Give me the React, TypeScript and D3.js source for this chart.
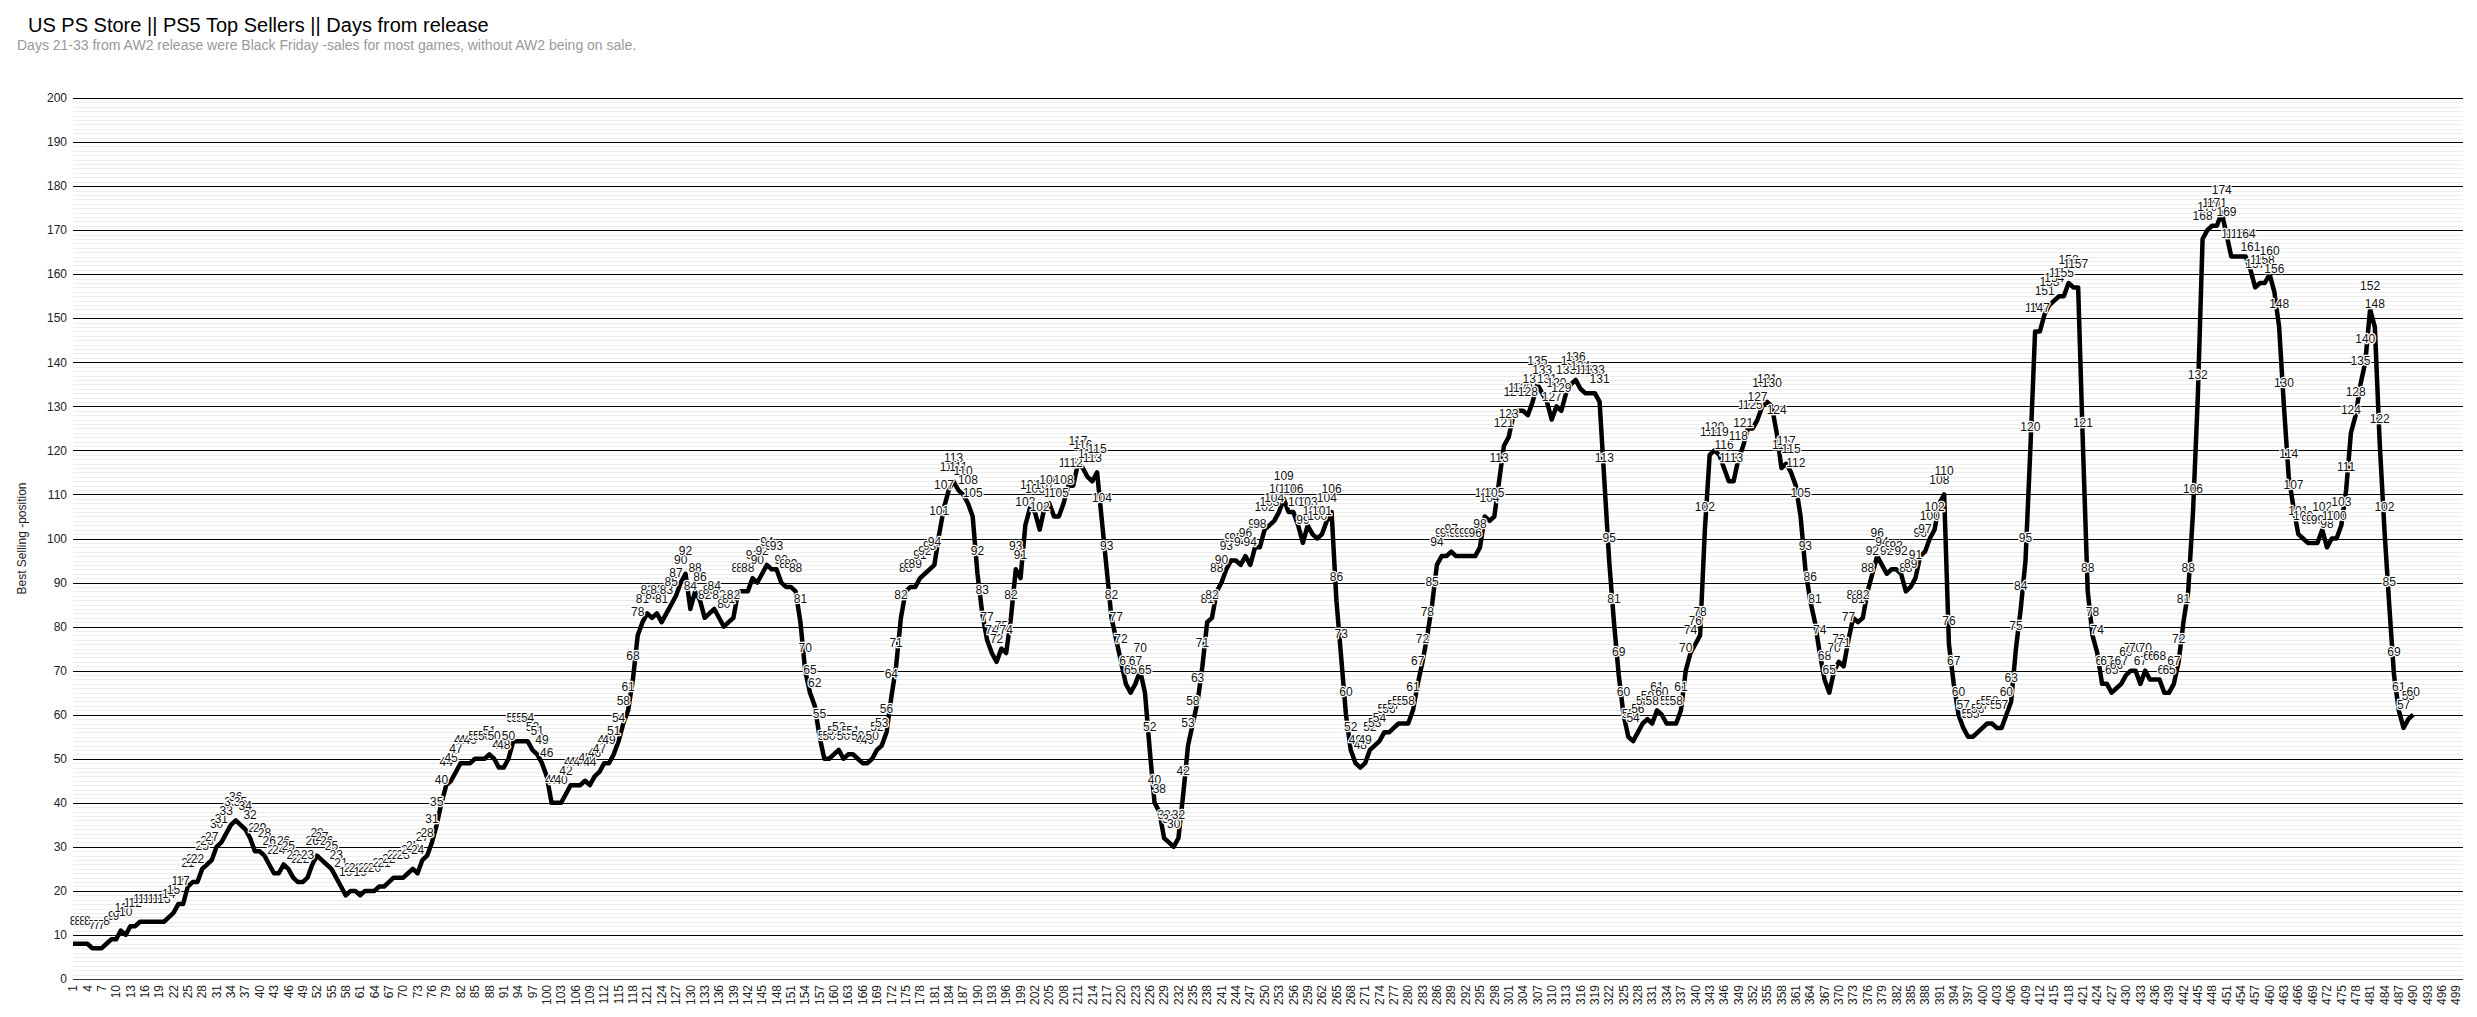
import { useEffect, useRef } from "react";
import * as d3 from "d3";

const TITLE = "US PS Store || PS5 Top Sellers || Days from release";
const SUBTITLE =
  "Days 21-33 from AW2 release were Black Friday -sales for most games, without AW2 being on sale.";
const Y_TITLE = "Best Selling -position";

// category axis: days from release
const days: number[] = Array.from({ length: 500 }, (_, i) => i + 1);
const yTicks = [0, 10, 20, 30, 40, 50, 60, 70, 80, 90, 100, 110, 120, 130, 140, 150, 160, 170, 180, 190, 200];

// best selling position
const positionDays1to100 = [
  8, 8, 8, 8, 7, 7, 7, 8, 9, 9,
  11, 10, 12, 12, 13, 13, 13, 13, 13, 13,
  14, 15, 17, 17, 21, 22, 22, 25, 26, 27,
  30, 31, 33, 35, 36, 35, 34, 32, 29, 29,
  28, 26, 24, 24, 26, 25, 23, 22, 22, 23,
  26, 28, 27, 26, 25, 23, 21, 19, 20, 20,
  19, 20, 20, 20, 21, 21, 22, 23, 23, 23,
  24, 25, 24, 27, 28, 31, 35, 40, 44, 45,
  47, 49, 49, 49, 50, 50, 50, 51, 50, 48,
  48, 50, 54, 54, 54, 54, 52, 51, 49, 46,
];
const positionDays101to200 = [
  40, 40, 40, 42, 44, 44, 44, 45, 44, 46,
  47, 49, 49, 51, 54, 58, 61, 68, 78, 81,
  83, 82, 83, 81, 83, 85, 87, 90, 92, 84,
  88, 86, 82, 83, 84, 82, 80, 81, 82, 88,
  88, 88, 91, 90, 92, 94, 93, 93, 90, 89,
  89, 88, 81, 70, 65, 62, 55, 50, 50, 51,
  52, 50, 51, 51, 50, 49, 49, 50, 52, 53,
  56, 64, 71, 82, 88, 89, 89, 91, 92, 93,
  94, 101, 107, 111, 113, 111, 110, 108, 105, 92,
  83, 77, 74, 72, 75, 74, 82, 93, 91, 103,
];
const positionDays201to300 = [
  107, 106, 102, 107, 108, 105, 105, 108, 112, 112,
  117, 116, 114, 113, 115, 104, 93, 82, 77, 72,
  67, 65, 67, 70, 65, 52, 40, 38, 32, 31,
  30, 32, 42, 53, 58, 63, 71, 81, 82, 88,
  90, 93, 95, 95, 94, 96, 94, 98, 98, 102,
  103, 104, 106, 109, 106, 106, 103, 99, 103, 101,
  100, 101, 104, 106, 86, 73, 60, 52, 49, 48,
  49, 52, 53, 54, 56, 56, 57, 58, 58, 58,
  61, 67, 72, 78, 85, 94, 96, 96, 97, 96,
  96, 96, 96, 96, 98, 105, 104, 105, 113, 121,
];
const positionDays301to400 = [
  123, 128, 129, 129, 128, 131, 135, 133, 131, 127,
  130, 129, 133, 135, 136, 134, 133, 133, 133, 131,
  113, 95, 81, 69, 60, 55, 54, 56, 58, 59,
  58, 61, 60, 58, 58, 58, 61, 70, 74, 76,
  78, 102, 119, 120, 119, 116, 113, 113, 118, 121,
  125, 125, 127, 130, 131, 130, 124, 116, 117, 115,
  112, 105, 93, 86, 81, 74, 68, 65, 70, 72,
  71, 77, 82, 81, 82, 88, 92, 96, 94, 92,
  93, 93, 92, 88, 89, 91, 96, 97, 100, 102,
  108, 110, 76, 67, 60, 57, 55, 55, 56, 57,
];
const positionDays401to490 = [
  58, 58, 57, 57, 60, 63, 75, 84, 95, 120,
  147, 147, 151, 153, 154, 155, 155, 158, 157, 157,
  121, 88, 78, 74, 67, 67, 65, 66, 67, 69,
  70, 70, 67, 70, 68, 68, 68, 65, 65, 67,
  72, 81, 88, 106, 132, 168, 170, 171, 171, 174,
  169, 164, 164, 164, 164, 161, 157, 158, 158, 160,
  156, 148, 130, 114, 107, 101, 100, 99, 99, 99,
  102, 98, 100, 100, 103, 111, 124, 128, 135, 140,
  152, 148, 122, 102, 85, 69, 61, 57, 59, 60,
];

const bestPosition = [
  ...positionDays1to100,
  ...positionDays101to200,
  ...positionDays201to300,
  ...positionDays301to400,
  ...positionDays401to490,
];

const FONT = "'Liberation Sans', Arial, sans-serif";

export default function App() {
  const ref = useRef<SVGSVGElement>(null);

  useEffect(() => {
    const width = 2477;
    const height = 1017;
    const left = 73;
    const right = 2463;
    const top = 98;
    const bottom = 979;

    const svg = d3.select(ref.current);
    svg.selectAll("*").remove();
    svg.attr("width", width).attr("height", height);

    svg.append("rect").attr("width", width).attr("height", height).attr("fill", "#fff");

    const xScale = d3.scalePoint<number>().domain(days).range([left, 2461]);
    const yScale = d3.scaleLinear().domain([0, 200]).range([bottom, top]);

    // title + subtitle
    svg
      .append("text")
      .attr("x", 28)
      .attr("y", 32)
      .attr("font-family", FONT)
      .attr("font-size", "20px")
      .attr("fill", "#000")
      .text(TITLE);
    svg
      .append("text")
      .attr("x", 17)
      .attr("y", 50)
      .attr("font-family", FONT)
      .attr("font-size", "14px")
      .attr("fill", "#999")
      .text(SUBTITLE);

    // minor gridlines, every position
    const minor = d3.range(1, 200).filter((v) => v % 10 !== 0);
    svg
      .append("g")
      .selectAll("line")
      .data(minor)
      .enter()
      .append("line")
      .attr("x1", left)
      .attr("x2", right)
      .attr("y1", (d) => Math.round(yScale(d)) + 0.5)
      .attr("y2", (d) => Math.round(yScale(d)) + 0.5)
      .attr("stroke", "#ececec")
      .attr("stroke-width", 1);

    // major gridlines
    svg
      .append("g")
      .selectAll("line")
      .data(yTicks)
      .enter()
      .append("line")
      .attr("x1", left)
      .attr("x2", right)
      .attr("y1", (d) => Math.round(yScale(d)) + 0.5)
      .attr("y2", (d) => Math.round(yScale(d)) + 0.5)
      .attr("stroke", (d) => (d === 0 ? "#333" : "#000"))
      .attr("stroke-width", 1);

    // y axis labels
    svg
      .append("g")
      .selectAll("text")
      .data(yTicks)
      .enter()
      .append("text")
      .attr("x", 67)
      .attr("y", (d) => yScale(d))
      .attr("dy", "0.35em")
      .attr("text-anchor", "end")
      .attr("font-family", FONT)
      .attr("font-size", "12px")
      .attr("fill", "#222")
      .text((d) => d);

    // y axis title
    svg
      .append("text")
      .attr("transform", `translate(26,${(top + bottom) / 2}) rotate(-90)`)
      .attr("text-anchor", "middle")
      .attr("font-family", FONT)
      .attr("font-size", "12px")
      .attr("fill", "#222")
      .text(Y_TITLE);

    // x axis labels, every third day, rotated
    const tickDays = days.filter((d) => (d - 1) % 3 === 0);
    svg
      .append("g")
      .selectAll("text")
      .data(tickDays)
      .enter()
      .append("text")
      .attr("transform", (d) => `translate(${xScale(d)},985) rotate(-90)`)
      .attr("dy", "0.35em")
      .attr("text-anchor", "end")
      .attr("font-family", FONT)
      .attr("font-size", "12px")
      .attr("fill", "#222")
      .text((d) => d);

    const points = bestPosition.map((v, i) => ({ day: days[i], v }));

    const line = d3
      .line<{ day: number; v: number }>()
      .x((d) => xScale(d.day) as number)
      .y((d) => yScale(d.v));

    svg
      .append("path")
      .datum(points)
      .attr("d", line)
      .attr("fill", "none")
      .attr("stroke", "#000")
      .attr("stroke-width", 4.5)
      .attr("stroke-linejoin", "round");

    // data labels
    svg
      .append("g")
      .selectAll("text")
      .data(points)
      .enter()
      .append("text")
      .attr("x", (d) => xScale(d.day) as number)
      .attr("y", (d) => yScale(d.v) - 19)
      .attr("text-anchor", "middle")
      .attr("font-family", FONT)
      .attr("font-size", "12px")
      .attr("fill", "#111")
      .attr("stroke", "#fff")
      .attr("stroke-width", 2.5)
      .attr("stroke-linejoin", "round")
      .attr("paint-order", "stroke")
      .text((d) => d.v);
  }, []);

  return (
    <svg
      ref={ref}
      style={{ position: "absolute", left: 0, top: 0, display: "block" }}
    />
  );
}
